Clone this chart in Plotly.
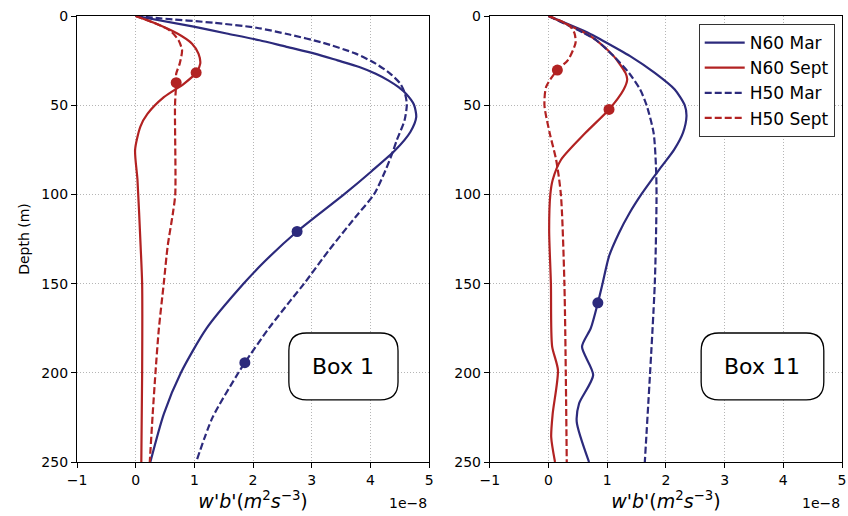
import plotly.graph_objects as go
from plotly.subplots import make_subplots

NAVY = "#2c2a7c"
RED = "#b22222"

# ---------------- Box 1 (left) ----------------
b1_n60_mar_depth = [0, 6.0, 9.8, 13.6, 17.3, 21.1, 24.9, 28.6, 32.4, 36.2, 39.9, 43.7, 49.6, 56.7, 65, 75.3, 87, 100, 120.8, 137.5, 150, 175, 200, 223, 250]
b1_n60_mar_val = [0, 0.99, 1.55, 2.11, 2.57, 3.05, 3.44, 3.81, 4.09, 4.31, 4.48, 4.61, 4.74, 4.78, 4.68, 4.42, 4.02, 3.55, 2.75, 2.20, 1.84, 1.21, 0.77, 0.48, 0.25]
b1_h50_mar_depth = [0, 1.3, 3.8, 6.6, 10.4, 15, 21.1, 26.7, 32.4, 38, 43.7, 49.6, 58.6, 69.5, 75.3, 87, 100, 112.5, 131, 150, 159, 175, 194.3, 200, 225, 250]
b1_h50_mar_val = [0, 0.42, 1.33, 2.06, 2.62, 3.19, 3.75, 4.09, 4.34, 4.51, 4.59, 4.62, 4.58, 4.45, 4.39, 4.25, 4.06, 3.75, 3.30, 2.87, 2.65, 2.27, 1.86, 1.75, 1.31, 1.03]
b1_n60_sep_depth = [0, 3.8, 9.8, 15.5, 21.1, 26.7, 31.8, 38, 45.5, 54.9, 62, 75, 91.6, 129, 150, 200, 250]
b1_n60_sep_val = [0, 0.31, 0.71, 0.96, 1.07, 1.10, 1.03, 0.82, 0.48, 0.20, 0.08, -0.01, 0.03, 0.084, 0.11, 0.11, 0.096]
b1_h50_sep_depth = [0, 3.8, 8.3, 13.6, 19.2, 26.7, 32.4, 37.4, 50, 100, 110.3, 129, 150, 176, 200, 223, 250]
b1_h50_sep_val = [0, 0.31, 0.59, 0.73, 0.79, 0.75, 0.69, 0.69, 0.67, 0.674, 0.635, 0.545, 0.478, 0.393, 0.337, 0.29, 0.24]
b1_markers = {"n60_mar": (2.75, 120.8), "h50_mar": (1.86, 194.3),
              "n60_sep": (1.03, 31.8), "h50_sep": (0.69, 37.4)}

# ---------------- Box 11 (right) ----------------
b11_n60_mar_depth = [0, 9.5, 13.2, 22.5, 31.9, 41.2, 50, 56.2, 65.5, 74.9, 84.2, 91.7, 100, 110.4, 121.6, 134.7, 150, 160.8, 175, 185.4, 201.3, 217.2, 227.5, 250]
b11_n60_mar_val = [0, 0.68, 0.89, 1.39, 1.81, 2.15, 2.32, 2.35, 2.29, 2.14, 1.93, 1.76, 1.58, 1.38, 1.20, 1.03, 0.92, 0.84, 0.72, 0.57, 0.76, 0.52, 0.48, 0.69]
b11_h50_mar_depth = [0, 9.5, 13.2, 22.5, 31.9, 41.2, 50, 65.5, 84.2, 100, 150, 250]
b11_h50_mar_val = [0, 0.60, 0.80, 1.11, 1.37, 1.56, 1.67, 1.79, 1.83, 1.84, 1.81, 1.64]
b11_n60_sep_depth = [0, 9.5, 13.2, 22.5, 31.9, 35.6, 41.2, 52.4, 65.5, 80.7, 91.9, 100, 120, 150, 185, 198.5, 223, 236, 250]
b11_n60_sep_val = [0, 0.62, 0.80, 1.11, 1.31, 1.34, 1.28, 1.03, 0.63, 0.21, 0.07, 0.03, 0.01, 0.04, 0.06, 0.16, 0.07, 0.045, 0.11]
b11_h50_sep_depth = [0, 5.3, 9.5, 15, 24.7, 30.3, 39.6, 50, 65.7, 80.7, 100, 150, 250]
b11_h50_sep_val = [0, 0.35, 0.44, 0.46, 0.33, 0.15, -0.04, -0.07, 0.02, 0.13, 0.21, 0.27, 0.31]
b11_markers = {"n60_mar": (0.84, 160.8), "h50_mar": None,
               "n60_sep": (1.03, 52.4), "h50_sep": (0.15, 30.3)}

x_ticks = [-1, 0, 1, 2, 3, 4, 5]
x_tick_labels = ["\u22121", "0", "1", "2", "3", "4", "5"]
y_ticks = [0, 50, 100, 150, 200, 250]

fig = make_subplots(rows=1, cols=2, horizontal_spacing=0.0794)

DASH = "7px,3px"
panels = [
    (1, [(b1_n60_mar_val, b1_n60_mar_depth, NAVY, "solid", "N60 Mar", "n60_mar"),
         (b1_n60_sep_val, b1_n60_sep_depth, RED, "solid", "N60 Sept", "n60_sep"),
         (b1_h50_mar_val, b1_h50_mar_depth, NAVY, DASH, "H50 Mar", "h50_mar"),
         (b1_h50_sep_val, b1_h50_sep_depth, RED, DASH, "H50 Sept", "h50_sep")], b1_markers),
    (2, [(b11_n60_mar_val, b11_n60_mar_depth, NAVY, "solid", "N60 Mar", "n60_mar"),
         (b11_n60_sep_val, b11_n60_sep_depth, RED, "solid", "N60 Sept", "n60_sep"),
         (b11_h50_mar_val, b11_h50_mar_depth, NAVY, DASH, "H50 Mar", "h50_mar"),
         (b11_h50_sep_val, b11_h50_sep_depth, RED, DASH, "H50 Sept", "h50_sep")], b11_markers),
]

for col, lines, markers in panels:
    for xs, ys, color, dash, name, key in lines:
        fig.add_trace(go.Scatter(x=xs, y=ys, mode="lines", name=name,
                                 line=dict(color=color, width=2.2, dash=dash, shape="spline", smoothing=0.7),
                                 showlegend=(col == 2)), row=1, col=col)
    for xs, ys, color, dash, name, key in lines:
        m = markers.get(key)
        if m is not None:
            fig.add_trace(go.Scatter(x=[m[0]], y=[m[1]], mode="markers",
                                     marker=dict(color=color, size=11), showlegend=False),
                          row=1, col=col)

axis_common = dict(showline=True, linecolor="black", linewidth=1.2, mirror=True,
                   ticks="outside", ticklen=5, tickcolor="black",
                   showgrid=True, gridcolor="#b5b5b5", griddash="1px,2px", gridwidth=1,
                   zeroline=False, tickfont=dict(size=14, color="black"))

for c in (1, 2):
    fig.update_xaxes(range=[-1, 5], tickvals=x_ticks, ticktext=x_tick_labels,
                     title=dict(text="<i>w</i>'<i>b</i>'(<i>m</i><sup>2</sup><i>s</i><sup>\u22123</sup>)",
                                font=dict(size=19, color="black"), standoff=4),
                     row=1, col=c, **axis_common)
    fig.update_yaxes(range=[250, 0], tickvals=y_ticks, row=1, col=c, **axis_common)

fig.update_yaxes(title=dict(text="Depth (m)", font=dict(size=14, color="black"), standoff=8), row=1, col=1)


def rounded_box(xref, yref, x0, x1, y0, y1, rx, ry):
    p = (f"M {x0+rx},{y0} L {x1-rx},{y0} Q {x1},{y0} {x1},{y0+ry} "
         f"L {x1},{y1-ry} Q {x1},{y1} {x1-rx},{y1} L {x0+rx},{y1} "
         f"Q {x0},{y1} {x0},{y1-ry} L {x0},{y0+ry} Q {x0},{y0} {x0+rx},{y0} Z")
    return dict(type="path", path=p, xref=xref, yref=yref,
                line=dict(color="black", width=1.3), fillcolor="white", layer="above")


fig.add_shape(rounded_box("x", "y", 2.61, 4.47, 177.7, 215.2, 0.3, 10))
fig.add_shape(rounded_box("x2", "y2", 2.60, 4.69, 177.7, 215.2, 0.3, 10))
fig.add_annotation(x=3.54, y=196.5, xref="x", yref="y", text="Box 1", showarrow=False,
                   font=dict(size=22, color="black"))
fig.add_annotation(x=3.645, y=196.5, xref="x2", yref="y2", text="Box 11", showarrow=False,
                   font=dict(size=22, color="black"))

for xr in ("x domain", "x2 domain"):
    fig.add_annotation(x=1.0, y=-0.07, xref=xr, yref="paper", text="1e\u22128", showarrow=False,
                       xanchor="right", yanchor="top", font=dict(size=14, color="black"))

fig.update_layout(
    width=848, height=516,
    margin=dict(l=77, r=2, t=16, b=54),
    paper_bgcolor="white", plot_bgcolor="white",
    font=dict(family="DejaVu Sans", color="black"),
    legend=dict(x=0.8127, y=0.982, xanchor="left", yanchor="top",
                bgcolor="white", bordercolor="#333333", borderwidth=1,
                font=dict(size=17, color="black"), tracegroupgap=0, itemwidth=40),
)

fig.write_html("out.html", config={"displayModeBar": False},
               post_script="document.body.style.margin='0';")
